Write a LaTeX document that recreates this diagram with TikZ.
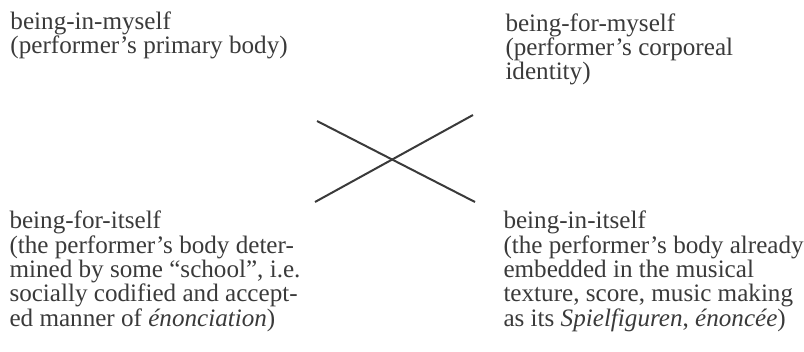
\documentclass[tikz,border=0pt]{standalone}
\usepackage{fontspec}
\setmainfont{Liberation Serif}
\usepackage{xcolor}
\usepackage{tikz}
\usetikzlibrary{positioning}

\definecolor{inkgray}{HTML}{3A3A3A}

\begin{document}
\begin{tikzpicture}[
  x=0.4pt, y=-0.4pt,
  mode/.style={anchor=base west, inner sep=0pt, align=left, text=inkgray,
    font=\fontsize{10.05}{9.7}\selectfont},
  cross/.style={draw=inkgray, line width=0.8pt}
]
\useasboundingbox (0,0) rectangle (804,352);

% nodes sit on the baseline of their last line
\node[mode] (inmyself) at (10,54) {being-in-myself\\(performer’s primary body)};
\node[mode] (formyself) at (505,80) {being-for-myself\\(performer’s corporeal\\identity)};
\node[mode] (foritself) at (9,326) {being-for-itself\\(the performer’s body deter-\\mined by some “school”, i.e.\\socially codified and accept-\\ed manner of \textit{énonciation})};
\node[mode] (initself) at (503,326) {being-in-itself\\(the performer’s body already\\embedded in the musical\\texture, score, music making\\as its \textit{Spielfiguren}, \textit{énoncée})};

% ends of the cross
\coordinate (nw) at (317,121);
\coordinate (se) at (475,202);
\coordinate (sw) at (315,202);
\coordinate (ne) at (473,115);

\draw[cross] (nw) -- (se);
\draw[cross] (sw) -- (ne);
\end{tikzpicture}
\end{document}
